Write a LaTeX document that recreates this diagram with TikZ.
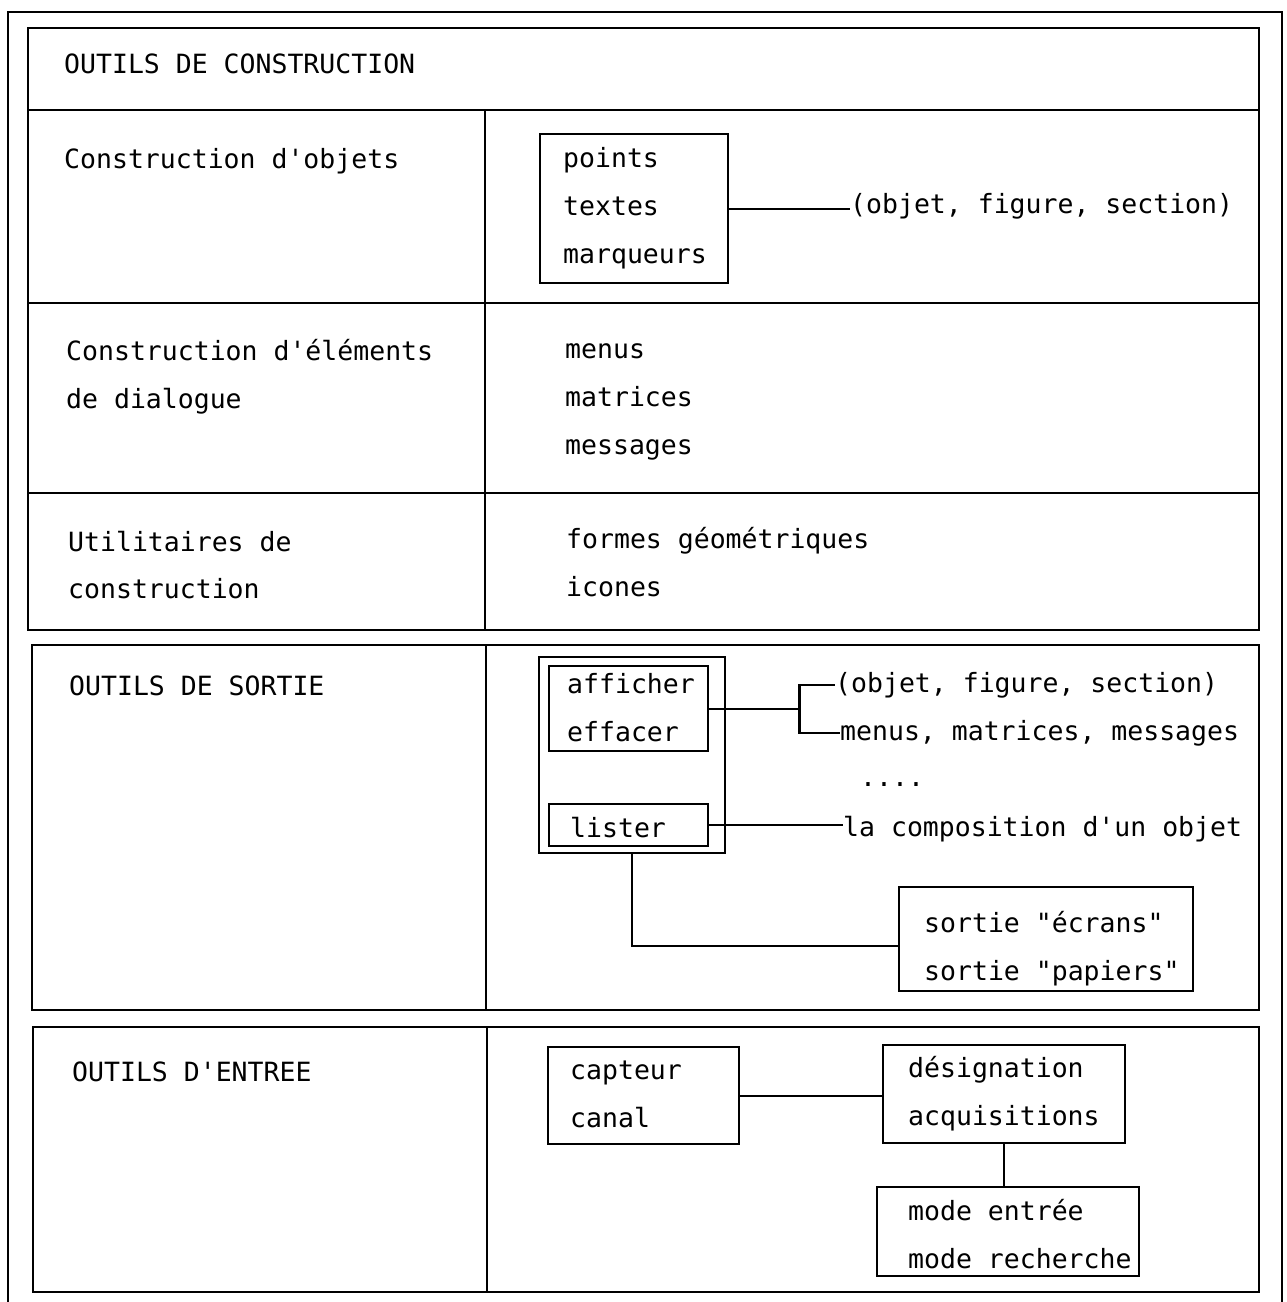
\documentclass[tikz,border=0pt]{standalone}
\usepackage{fontspec}
\setmonofont{DejaVu Sans Mono}
\begin{document}
\begin{tikzpicture}[x=1pt,y=-1pt,
  frame/.style={line width=2.4pt},
  rule/.style={line width=1.8pt},
  boxst/.style={draw,line width=2.4pt,anchor=north west,inner sep=0pt},
  conn/.style={line width=2.2pt},
  txt/.style={anchor=base west,inner sep=0pt,font=\ttfamily\fontsize{26.5}{32}\selectfont}]
\useasboundingbox (0,0) rectangle (1287,1302);
% outer frame
\draw[rule] (8,1302) -- (8,12) -- (1282,12) -- (1282,1302);
% table 1
\draw[frame] (28,28) rectangle (1259,630);
\draw[frame] (28,110) -- (1259,110);
\draw[frame] (28,303) -- (1259,303);
\draw[frame] (28,493) -- (1259,493);
\draw[rule] (485,110) -- (485,630);
% table 2
\draw[frame] (32,645) rectangle (1259,1010);
\draw[rule] (486,645) -- (486,1010);
% table 3
\draw[frame] (33,1027) rectangle (1259,1292);
\draw[rule] (487,1027) -- (487,1292);

% texts table 1
\node[txt] (t1) at (64,73) {OUTILS DE CONSTRUCTION};
\node[txt] (c1) at (64,168) {Construction d'objets};
\node[boxst,minimum width=188,minimum height=149] (pts) at (539,133) {};
\node[txt] (p1) at (563,167) {points};
\node[txt] (p2) at (563,215) {textes};
\node[txt] (p3) at (563,263) {marqueurs};
\node[txt] (ofs1) at (850,213) {(objet, figure, section)};
\draw[conn] (pts.east) -- (pts.east -| ofs1.west);

\node[txt] (c2a) at (66,360) {Construction d'éléments};
\node[txt] (c2b) at (66,408) {de dialogue};
\node[txt] (m1) at (565,358) {menus};
\node[txt] (m2) at (565,406) {matrices};
\node[txt] (m3) at (565,454) {messages};

\node[txt] (c3a) at (68,551) {Utilitaires de};
\node[txt] (c3b) at (68,598) {construction};
\node[txt] (f1) at (566,548) {formes géométriques};
\node[txt] (f2) at (566,596) {icones};

% table 2
\node[txt] (t2) at (69,695) {OUTILS DE SORTIE};
\node[boxst,minimum width=186,minimum height=196] (grp) at (538,656) {};
\node[boxst,minimum width=159,minimum height=85] (aff) at (548,665) {};
\node[txt] (a1) at (567,693) {afficher};
\node[txt] (a2) at (567,741) {effacer};
\node[boxst,minimum width=159,minimum height=42] (lst) at (548,803) {};
\node[txt] (l1) at (570,837) {lister};
\node[txt] (ofs2) at (835,692) {(objet, figure, section)};
\node[txt] (mmm) at (840,740) {menus, matrices, messages};
\node[txt] (dots) at (860,786) {....};
\node[txt] (lac) at (843,836) {la composition d'un objet};
\path (aff.east) ++(90,0) coordinate (br);
\draw[conn] (aff.east) -- (br);
\draw[conn] (br) |- (ofs2.west);
\draw[conn] (br) |- (mmm.west);
\draw[conn] (lst.east) -- (lst.east -| lac.west);
\node[boxst,minimum width=294,minimum height=104] (sor) at (898,886) {};
\node[txt] (s1) at (924,932) {sortie "écrans"};
\node[txt] (s2) at (924,980) {sortie "papiers"};
\coordinate (sj) at (898,946);
\draw[conn] (grp.south) |- (sj);

% table 3
\node[txt] (t3) at (72,1081) {OUTILS D'ENTREE};
\node[boxst,minimum width=191,minimum height=97] (cap) at (547,1046) {};
\node[txt] (k1) at (570,1079) {capteur};
\node[txt] (k2) at (570,1127) {canal};
\node[boxst,minimum width=242,minimum height=98] (des) at (882,1044) {};
\node[txt] (d1) at (908,1077) {désignation};
\node[txt] (d2) at (908,1125) {acquisitions};
\node[boxst,minimum width=262,minimum height=89] (mod) at (876,1186) {};
\node[txt] (e1) at (908,1220) {mode entrée};
\node[txt] (e2) at (908,1268) {mode recherche};
\draw[conn] (cap.east) -- (cap.east -| des.west);
\draw[conn] (des.south) -- (des.south |- mod.north);
\end{tikzpicture}
\end{document}
